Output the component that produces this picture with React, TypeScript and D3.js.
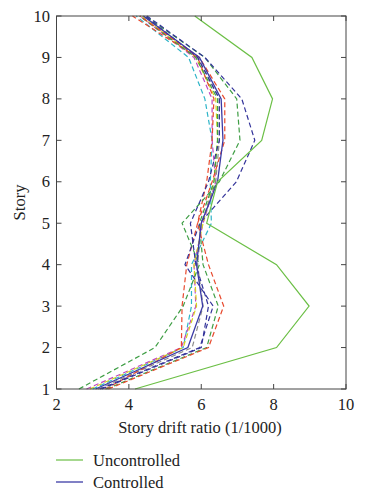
import React from "react";
import * as d3 from "d3";

const stories = [1, 2, 3, 4, 5, 6, 7, 8, 9, 10];
const xTicks = [2, 4, 6, 8, 10];
const yTicks = [1, 2, 3, 4, 5, 6, 7, 8, 9, 10];

const uncontrolled = [4.17, 8.08, 8.98, 8.08, 6.15, 6.45, 7.67, 7.97, 7.4, 5.82];
const controlled = [3.08, 5.63, 6.04, 5.87, 6.0, 6.45, 6.6, 6.55, 5.95, 4.4];

const dashedG1 = [2.62, 4.72, 5.5, 5.95, 5.47, 6.5, 7.07, 6.98, 6.1, 4.45];
const dashedG2 = [3.38, 6.15, 6.47, 6.05, 5.95, 6.35, 6.45, 6.45, 5.85, 4.3];
const dashedB1 = [3.2, 5.96, 6.33, 5.55, 5.96, 6.97, 7.48, 7.12, 6.1, 4.5];
const dashedB2 = [3.25, 6.0, 6.2, 5.85, 5.7, 6.2, 6.5, 6.5, 5.9, 4.45];
const dashedR1 = [3.43, 6.2, 6.62, 6.2, 5.9, 6.3, 6.65, 6.65, 5.95, 4.3];
const dashedR2 = [3.35, 5.45, 5.47, 5.6, 5.9, 6.15, 6.3, 6.35, 5.9, 4.1];
const dashedC = [3.0, 5.5, 5.73, 5.73, 6.28, 6.25, 6.3, 6.1, 5.65, 4.2];
const dashedM = [2.83, 5.45, 5.85, 5.8, 6.05, 6.4, 6.3, 6.3, 5.8, 4.3];
const dashedY = [2.92, 5.5, 5.87, 5.8, 6.05, 6.35, 6.45, 6.4, 5.85, 4.35];
const dashedK = [3.15, 5.75, 6.05, 5.9, 6.0, 6.4, 6.5, 6.5, 5.9, 4.4];

const dashedSeries = [
  { v: dashedC, c: "#2fb5c8" },
  { v: dashedM, c: "#c046c0" },
  { v: dashedY, c: "#d6d41e" },
  { v: dashedK, c: "#8a8a8a" },
  { v: dashedR2, c: "#e84a2e" },
  { v: dashedG1, c: "#3f9e45" },
  { v: dashedG2, c: "#3f9e45" },
  { v: dashedB2, c: "#33339a" },
  { v: dashedB1, c: "#33339a" },
  { v: dashedR1, c: "#e84a2e" },
];

const L = 56.5, R = 346, T = 16, B = 389;
const FONT = "'Liberation Serif', 'Times New Roman', serif";
const FS = 16.5;

export default function App() {
  const x = d3.scaleLinear().domain([2, 10]).range([L, R]);
  const y = d3.scaleLinear().domain([1, 10]).range([B, T]);
  const line = (vals: number[]) =>
    d3.line<number>().x((d) => x(d)).y((_, i) => y(stories[i]))(vals) || "";
  const axisColor = "#444";
  return (
    <svg width={366} height={500} style={{ position: "absolute", left: 0, top: 0, background: "#fff" }}>
      {dashedSeries.map((s, i) => (
        <path key={i} d={line(s.v)} fill="none" stroke={s.c} strokeWidth={1.2} strokeDasharray="5,3" />
      ))}
      <path d={line(controlled)} fill="none" stroke="#3b3ba6" strokeWidth={1.3} />
      <path d={line(uncontrolled)} fill="none" stroke="#6bbf45" strokeWidth={1.2} />
      <rect x={L} y={T} width={R - L} height={B - T} fill="none" stroke={axisColor} strokeWidth={1} />
      {xTicks.map((t) => (
        <g key={"x" + t}>
          <line x1={x(t)} x2={x(t)} y1={B} y2={B - 5} stroke={axisColor} />
          <line x1={x(t)} x2={x(t)} y1={T} y2={T + 5} stroke={axisColor} />
          <text x={x(t)} y={410} textAnchor="middle" fontFamily={FONT} fontSize={FS} fill="#222">{t}</text>
        </g>
      ))}
      {yTicks.map((t) => (
        <g key={"y" + t}>
          <line x1={L} x2={L + 5} y1={y(t)} y2={y(t)} stroke={axisColor} />
          <line x1={R} x2={R - 5} y1={y(t)} y2={y(t)} stroke={axisColor} />
          <text x={50} y={y(t) + 5.5} textAnchor="end" fontFamily={FONT} fontSize={FS} fill="#222">{t}</text>
        </g>
      ))}
      <text x={200} y={433} textAnchor="middle" fontFamily={FONT} fontSize={FS} fill="#222">Story drift ratio (1/1000)</text>
      <text transform={`translate(25,${(T + B) / 2}) rotate(-90)`} textAnchor="middle" fontFamily={FONT} fontSize={FS} fill="#222">Story</text>
      <line x1={56} x2={83} y1={460} y2={460} stroke="#6bbf45" strokeWidth={1.2} />
      <text x={93} y={465.5} fontFamily={FONT} fontSize={FS} fill="#222">Uncontrolled</text>
      <line x1={56} x2={83} y1={482} y2={482} stroke="#3b3ba6" strokeWidth={1.3} />
      <text x={93} y={487.5} fontFamily={FONT} fontSize={FS} fill="#222">Controlled</text>
    </svg>
  );
}
